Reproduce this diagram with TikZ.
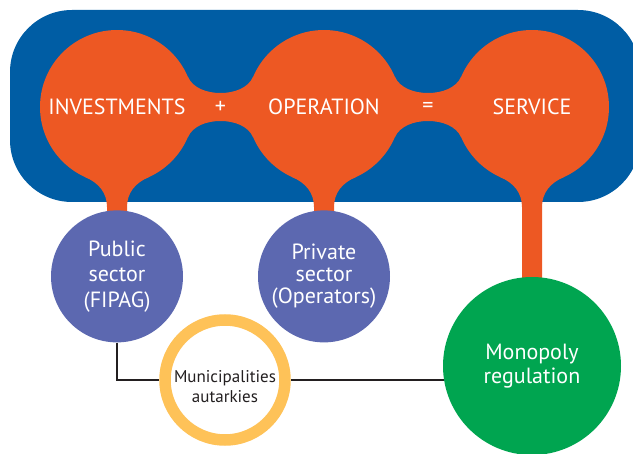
\documentclass[tikz,border=0pt]{standalone}
\usepackage{fontspec}
\setmainfont{PT Sans}
\usetikzlibrary{positioning,calc}
\definecolor{oceanblue}{RGB}{0,93,164}
\definecolor{flame}{RGB}{237,88,35}
\definecolor{lilac}{RGB}{92,104,176}
\definecolor{sun}{RGB}{254,194,88}
\definecolor{leaf}{RGB}{0,165,80}
\definecolor{ink}{RGB}{35,31,32}
\pgfdeclarelayer{back}
\pgfdeclarelayer{mid}
\pgfsetlayers{back,mid,main}

\begin{document}
\begin{tikzpicture}[x=1pt, y=-1pt, every node/.style={font=\fontsize{22}{25}\selectfont}]
\tikzset{ball/.style={circle, fill=flame, text=white, minimum size=154pt, inner sep=0pt}}
\tikzset{sign/.style={text=white, inner sep=0pt}}
\tikzset{sector/.style={circle, fill=lilac, text=white, align=center, minimum size=132pt, inner sep=0pt}}
\tikzset{regbox/.style={circle, fill=leaf, text=white, align=center, minimum size=178pt, inner sep=0pt, font=\fontsize{22}{24}\selectfont}}
\tikzset{ring/.style={circle, draw=sun, line width=11.5pt, fill=white, text=ink, align=center, minimum size=120pt, inner sep=0pt, text height=46pt, font=\fontsize{17}{20}\selectfont}}
\tikzset{link/.style={draw=ink, line width=2.2pt}}
\useasboundingbox (0,0) rectangle (633,454);
% top row
\node[ball] (inv) at (117,107) {INVESTMENTS};
\node[ball] (opr) at (324,107) {OPERATION};
\node[ball] (srv) at (532,107) {SERVICE};
\node[sign] (plus) at ($(inv)!0.5!(opr)$) {+};
\node[sign] (equal) at ($(opr)!0.5!(srv)$) {=};
% actors
\node[sector, below=26pt of inv, font=\fontsize{22}{25.5}\selectfont] (pub) {Public\\sector\\(FIPAG)};
\node[sector, below=26pt of opr, font=\fontsize{22}{22}\selectfont] (pvt) {Private\\sector\\(Operators)};
\node[regbox] (reg) at (532,366) {Monopoly\\regulation};
\node[ring] (mun) at (225,380) {Municipalities\\autarkies};
\begin{pgfonlayer}{back}
\fill[oceanblue, rounded corners=62pt] (10,10) rectangle (640,202);
\end{pgfonlayer}
\begin{pgfonlayer}{mid}
\foreach \a/\b in {inv/opr, opr/srv}
  \fill[flame] ($(\a)+(71,-30)$) .. controls +(5,11) and +(-14,0) .. ($(\a)!0.5!(\b)+(0,-14)$)
    .. controls +(14,0) and +(-5,11) .. ($(\b)+(-71,-30)$) -- ($(\b)+(-71,30)$)
    .. controls +(-5,-11) and +(14,0) .. ($(\a)!0.5!(\b)+(0,14)$)
    .. controls +(-14,0) and +(5,-11) .. ($(\a)+(71,30)$) -- cycle;
\foreach \n/\t in {inv/pub, opr/pvt, srv/reg}
  \fill[flame] ($(\n)+(-32,70)$) .. controls +(14,6) and +(0,-14) .. ($(\n)+(-10,100)$)
    -- ($(\t)+(-10,0)$) -- ($(\t)+(10,0)$) -- ($(\n)+(10,100)$)
    .. controls +(0,-14) and +(-14,6) .. ($(\n)+(32,70)$) -- cycle;
\draw[link] (pub.south) |- (mun.west);
\draw[link] (mun.east) -- (mun.east -| reg.center);
\end{pgfonlayer}
\end{tikzpicture}
\end{document}
